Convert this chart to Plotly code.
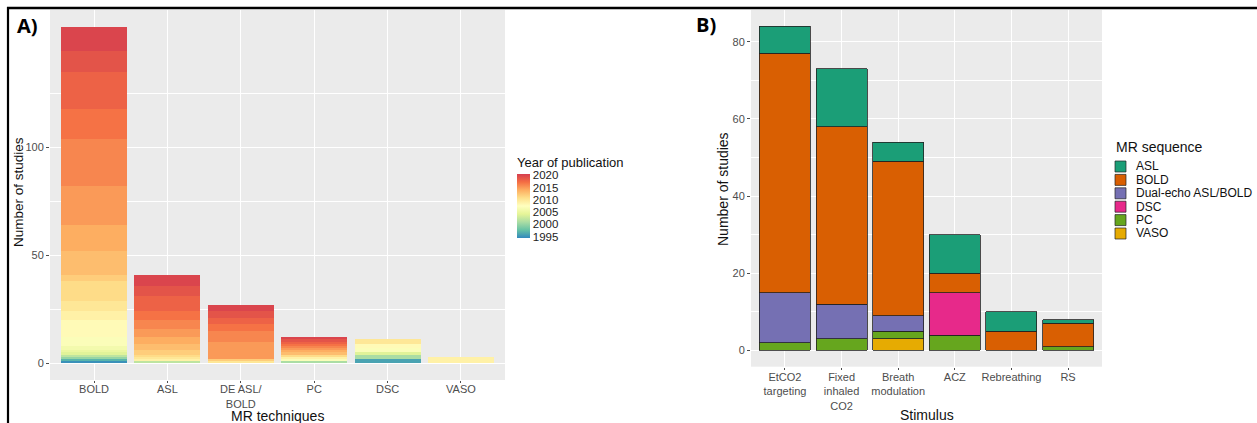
import plotly.graph_objects as go

W, H = 1257, 423
FONT = "Liberation Sans, Arial, sans-serif"

# ---------------- Panel A data ----------------
techniques = ["BOLD", "ASL", "DE ASL/<br>BOLD", "PC", "DSC", "VASO"]
years = [1995, 1996, 1997, 1998, 1999, 2000, 2001, 2002, 2003, 2004, 2005, 2006, 2007,
         2008, 2009, 2010, 2011, 2012, 2013, 2014, 2015, 2016, 2017, 2018, 2019, 2020]
bold_by_year = [1, 0, 1, 0, 0, 1, 0, 1, 0, 1, 1, 2, 4, 8, 4, 5, 9, 3, 11, 12, 18, 22, 14, 17, 10, 11]
asl_by_year = [0, 0, 0, 0, 0, 0, 0, 1, 0, 0, 0, 0, 0, 0, 1, 1, 1, 2, 3, 3, 4, 4, 4, 7, 5, 5]
de_by_year = [0, 0, 0, 0, 0, 0, 0, 0, 0, 0, 0, 0, 0, 0, 0, 1, 0, 1, 0, 0, 8, 5, 3, 3, 3, 3]
pc_by_year = [0, 0, 0, 0, 0, 0, 1, 0, 0, 0, 0, 0, 1, 0, 1, 0, 1, 0, 1, 1, 1, 1, 1, 1, 1, 1]
dsc_by_year = [0, 2, 0, 0, 0, 0, 2, 0, 0, 1, 0, 0, 2, 2, 0, 2, 0, 0, 0, 0, 0, 0, 0, 0, 0, 0]
vaso_by_year = [0, 0, 0, 0, 0, 0, 0, 0, 0, 0, 0, 0, 0, 0, 3, 0, 0, 0, 0, 0, 0, 0, 0, 0, 0, 0]
year_ticks = [1995, 2000, 2005, 2010, 2015, 2020]
a_yticks = [0, 50, 100]

# ---------------- Panel B data ----------------
stimuli = ["EtCO2<br>targeting", "Fixed<br>inhaled<br>CO2", "Breath<br>modulation",
           "ACZ", "Rebreathing", "RS"]
sequences = ["ASL", "BOLD", "Dual-echo ASL/BOLD", "DSC", "PC", "VASO"]
asl_counts = [7, 15, 5, 10, 5, 1]
bold_counts = [62, 46, 40, 5, 5, 6]
dual_counts = [13, 9, 4, 0, 0, 0]
dsc_counts = [0, 0, 0, 11, 0, 0]
pc_counts = [2, 3, 2, 4, 0, 1]
vaso_counts = [0, 0, 3, 0, 0, 0]
seq_colors = ["#1B9E77", "#D95F02", "#7570B3", "#E7298A", "#66A61E", "#E6AB02"]
b_yticks = [0, 20, 40, 60, 80]

spectral_hex = ["#3288BD", "#66C2A5", "#ABDDA4", "#E6F598", "#FFFFBF",
                "#FEE08B", "#FDAE61", "#F46D43", "#D53E4F"]
spectral = [[i / (len(spectral_hex) - 1), c] for i, c in enumerate(spectral_hex)]

fig = go.Figure()

by_tech = [bold_by_year, asl_by_year, de_by_year, pc_by_year, dsc_by_year, vaso_by_year]
for i, yr in enumerate(years):
    vals = [t[i] if t[i] else None for t in by_tech]
    if all(v is None for v in vals):
        continue
    fig.add_trace(go.Bar(
        x=techniques, y=vals, xaxis="x", yaxis="y",
        marker=dict(color=[yr] * len(techniques), coloraxis="coloraxis", line=dict(width=0)),
        showlegend=False, name=str(yr)))

b_series = [asl_counts, bold_counts, dual_counts, dsc_counts, pc_counts, vaso_counts]
for k in reversed(range(len(sequences))):
    vals = [v if v else None for v in b_series[k]]
    fig.add_trace(go.Bar(
        x=stimuli, y=vals, xaxis="x2", yaxis="y2", name=sequences[k],
        marker=dict(color=seq_colors[k], line=dict(color="#222222", width=0.8)),
        showlegend=False))

def px_x(p):
    return p / W

def px_y(p):
    return 1 - p / H

tickfont = dict(family=FONT, size=11, color="#4D4D4D")
titlefont = dict(family=FONT, size=14, color="#111111")
grid = dict(showgrid=True, gridcolor="white", gridwidth=1.1, zeroline=False,
            ticks="outside", tickcolor="#4D4D4D", tickwidth=1,
            showline=False, tickfont=tickfont, automargin=False)

fig.update_layout(
    template="none",
    width=W, height=H, margin=dict(l=0, r=0, t=0, b=0, pad=0),
    paper_bgcolor="white", plot_bgcolor="#EBEBEB",
    barmode="stack", bargap=0.1,
    font=dict(family=FONT),
    xaxis=dict(domain=[px_x(50), px_x(505)], anchor="y", type="category",
               range=[-0.6, 5.6], ticklen=2, ticklabelstandoff=-3, **grid),
    yaxis=dict(domain=[px_y(380), px_y(10)], anchor="x", range=[-7.8, 163.8],
               tickvals=a_yticks, ticklen=3,
               minor=dict(showgrid=True, gridcolor="white", gridwidth=0.5, tickvals=[25, 75, 125]),
               **grid),
    xaxis2=dict(domain=[px_x(751), px_x(1102)], anchor="y2", type="category",
                range=[-0.6, 5.6], ticklen=2, ticklabelstandoff=-2, **grid),
    yaxis2=dict(domain=[px_y(366.7), px_y(10)], anchor="x2", range=[-4.2, 88.2],
                tickvals=b_yticks, ticklen=3,
                minor=dict(showgrid=True, gridcolor="white", gridwidth=0.5, tickvals=[10, 30, 50, 70]),
                **grid),
    coloraxis=dict(
        colorscale=spectral, cmin=1994.5, cmax=2020.5,
        colorbar=dict(
            title=dict(text="Year of publication", side="top",
                       font=dict(family=FONT, size=13, color="#111111")),
            x=px_x(517), xanchor="left", xpad=0,
            y=px_y(238), yanchor="bottom", ypad=0,
            len=84, lenmode="pixels", thickness=13, thicknessmode="pixels",
            tickvals=year_ticks, ticks="", outlinewidth=0,
            tickfont=dict(family=FONT, size=11.5, color="#222222"))),
)

shapes = [
    dict(type="line", xref="paper", yref="paper", x0=px_x(7), x1=1, y0=px_y(8), y1=px_y(8),
         line=dict(color="black", width=2.5)),
    dict(type="line", xref="paper", yref="paper", x0=px_x(8), x1=px_x(8), y0=0, y1=px_y(7),
         line=dict(color="black", width=2.2)),
]
annotations = [
    dict(text="<b>A)</b>", x=px_x(15), y=px_y(26), xref="paper", yref="paper",
         xanchor="left", yanchor="middle", showarrow=False,
         font=dict(family="Open Sans, Liberation Sans, sans-serif", size=20, color="black")),
    dict(text="<b>B)</b>", x=px_x(694), y=px_y(25), xref="paper", yref="paper",
         xanchor="left", yanchor="middle", showarrow=False,
         font=dict(family="Open Sans, Liberation Sans, sans-serif", size=20, color="black")),
    # axis titles
    dict(text="MR techniques", x=px_x(277.5), y=px_y(416), xref="paper", yref="paper",
         xanchor="center", yanchor="middle", showarrow=False, font=titlefont),
    dict(text="Stimulus", x=px_x(926.5), y=px_y(415), xref="paper", yref="paper",
         xanchor="center", yanchor="middle", showarrow=False, font=titlefont),
    dict(text="Number of studies", x=px_x(18), y=px_y(192), xref="paper", yref="paper",
         xanchor="center", yanchor="middle", showarrow=False, textangle=-90,
         font=dict(family=FONT, size=13.5, color="#111111")),
    dict(text="Number of studies", x=px_x(723), y=px_y(189), xref="paper", yref="paper",
         xanchor="center", yanchor="middle", showarrow=False, textangle=-90, font=titlefont),
    dict(text="MR sequence", x=px_x(1114), y=px_y(147), xref="paper", yref="paper",
         xanchor="left", yanchor="middle", showarrow=False,
         font=dict(family=FONT, size=14, color="#111111")),
]
# manual legend for panel B
for k, name in enumerate(sequences):
    cy = 166.5 + k * 13.4
    shapes.append(dict(type="rect", xref="paper", yref="paper",
                       x0=px_x(1115), x1=px_x(1126), y0=px_y(cy + 5.5), y1=px_y(cy - 5.5),
                       fillcolor=seq_colors[k], line=dict(color="#222222", width=0.7)))
    annotations.append(dict(text=name, x=px_x(1134), y=px_y(cy), xref="paper", yref="paper",
                            xanchor="left", yanchor="middle", showarrow=False,
                            font=dict(family=FONT, size=12, color="#111111")))

fig.update_layout(shapes=shapes, annotations=annotations)
fig.write_html("out.html")
